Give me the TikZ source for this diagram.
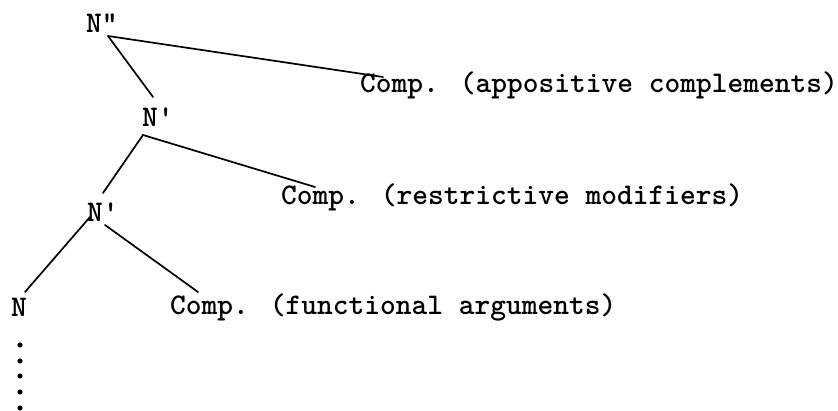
\documentclass[tikz,border=0pt]{standalone}
\begin{document}
\begin{tikzpicture}[x=1pt,y=-1pt,
  lbl/.style={anchor=base west,inner sep=0pt,outer sep=0pt,font=\fontsize{30}{36}\selectfont\ttfamily\bfseries},
  edge/.style={line width=1.7pt,line cap=round}]
\useasboundingbox (0,0) rectangle (838,411);
\node[lbl] (npp) at (86,33) {N\textquotedbl};
\node[lbl] (np1) at (142,127) {N\textquotesingle};
\node[lbl] (np2) at (87,222) {N\textquotesingle};
\node[lbl] (n) at (11,317) {N};
\node[lbl] (ca) at (360,93) {Comp. (appositive complements)};
\node[lbl] (cr) at (281,205) {Comp. (restrictive modifiers)};
\node[lbl] (cf) at (170,315) {Comp. (functional arguments)};
\draw[edge] ([shift={(22,3)}]npp.base west) -- ([shift={(23,-16)}]ca.base west);
\draw[edge] ([shift={(22,3)}]npp.base west) -- ([shift={(11,-30)}]np1.base west);
\draw[edge] ([shift={(1,8)}]np1.base west) -- ([shift={(16,-29)}]np2.base west);
\draw[edge] ([shift={(1,8)}]np1.base west) -- ([shift={(34,-18)}]cr.base west);
\draw[edge] ([shift={(3,-5)}]np2.base west) -- ([shift={(14,-25)}]n.base west);
\draw[edge] ([shift={(18,3)}]np2.base west) -- ([shift={(28,-23)}]cf.base west);
\foreach \d in {28,44,59,75,91}
  \fill ([shift={(9,\d)}]n.base west) circle (2.6);
\end{tikzpicture}
\end{document}
